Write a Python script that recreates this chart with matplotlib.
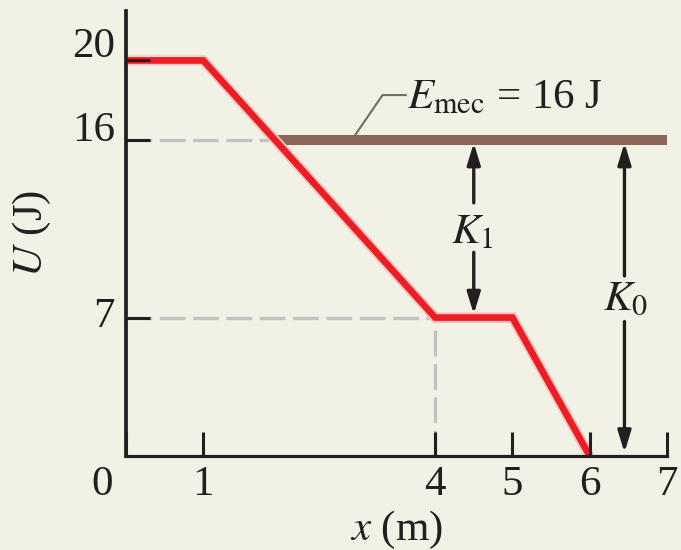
import numpy as np
import matplotlib
matplotlib.use("Agg")
import matplotlib.pyplot as plt
import matplotlib.patheffects as pe
from matplotlib.transforms import ScaledTranslation

# Potential energy curve U(x)
x_pos = [0, 1, 4, 5, 6]
u_vals = [20, 20, 7, 7, 0]

# Mechanical energy level
e_mec = 16
e_mec_x_end = 7

# Kinetic energy markers: (x position, lower U, upper U)
k1_x, k1_low, k1_high = 4.5, 7, 16
k0_x, k0_low, k0_high = 6.45, 0, 16

x_ticks = [0, 1, 4, 5, 6, 7]
x_tick_labels = ["0", "1", "4", "5", "6", "7"]
y_ticks = [7, 16, 20]
y_tick_labels = ["7", "16", "20"]

BG = "#f1f1e5"
INK = "#231f20"
RED = "#ee1d24"
BROWN = "#8b6757"
DASH = "#c2c2c4"
FS = 31

plt.rcParams["font.family"] = ["Liberation Serif", "DejaVu Serif"]
plt.rcParams["mathtext.fontset"] = "stix"
plt.rcParams["lines.scale_dashes"] = False

fig = plt.figure(figsize=(6.81, 5.50), dpi=100, facecolor=BG)
ax = fig.add_axes([0.185, 0.1709, 0.9794 - 0.185, 0.98 - 0.1709])
ax.set_facecolor(BG)
ax.set_xlim(0, 7)
ax.set_ylim(0, 22.5)

# where the falling segment crosses the energy level
x_cross = x_pos[1] + (u_vals[1] - e_mec) / (u_vals[1] - u_vals[2]) * (x_pos[2] - x_pos[1])

dash_style = dict(color=DASH, lw=2.4, linestyle=(0, (18.5, 5.5)), zorder=1)
ax.plot([0, x_cross], [e_mec, e_mec], **dash_style)
ax.plot([0, x_pos[2]], [u_vals[2], u_vals[2]], **dash_style)
ax.plot([x_pos[2], x_pos[2]], [0, u_vals[2]], **dash_style)

# mechanical energy line
ax.plot([x_cross, e_mec_x_end], [e_mec, e_mec], color=BROWN, lw=7.2,
        solid_capstyle="butt", zorder=2.1)

# potential energy curve
ax.plot(x_pos, u_vals, color=RED, lw=4.8, solid_capstyle="butt",
        solid_joinstyle="miter", zorder=2.2,
        path_effects=[pe.Stroke(linewidth=7.5, foreground="#f2c8c3"), pe.Normal()])

# leader line to the energy label
ax.plot([2.96, 3.32, 3.62], [16.2, 18.25, 18.25], color="#6d6d69", lw=1.5,
        solid_joinstyle="miter", zorder=2.3)
ax.text(3.635, 17.59, r"$E_{\rm mec}$ = 16 J", fontsize=FS, color=INK,
        ha="left", va="baseline")

arrow_kw = dict(arrowstyle="-|>,head_length=0.65,head_width=0.2", color=INK,
                lw=2.4, mutation_scale=20, shrinkA=0, shrinkB=2.5)


def double_arrow(x, low, high, gap_top, gap_bottom):
    ax.annotate("", xy=(x, high), xytext=(x, gap_top), arrowprops=arrow_kw, zorder=3)
    ax.annotate("", xy=(x, low), xytext=(x, gap_bottom), arrowprops=arrow_kw, zorder=3)


double_arrow(k1_x, k1_low, k1_high, 12.8, 10.3)
double_arrow(k0_x, k0_low, k0_high, 9.1, 6.8)
ax.text(4.48, 10.77, r"$K_1$", fontsize=FS, color=INK, ha="center", va="baseline")
ax.text(6.47, 7.38, r"$K_0$", fontsize=FS, color=INK, ha="center", va="baseline")

# axes styling
for side in ("top", "right"):
    ax.spines[side].set_visible(False)
ax.spines["left"].set_linewidth(2.7)
ax.spines["bottom"].set_linewidth(2.3)
ax.spines["left"].set_color(INK)
ax.spines["bottom"].set_color(INK)
ax.set_axisbelow(False)

ax.set_xticks(x_ticks)
ax.set_xticklabels(x_tick_labels)
ax.set_yticks(y_ticks)
ax.set_yticklabels(y_tick_labels)
ax.tick_params(axis="both", direction="in", length=17.5, width=2.2, color=INK,
               labelsize=FS, labelcolor=INK)
ax.tick_params(axis="x", pad=7)
ax.tick_params(axis="y", pad=8)

# nudge individual tick labels
x_shift = {"0": (-0.24, 0.0)}
for lab in ax.get_xticklabels():
    dx, dy = x_shift.get(lab.get_text(), (0.0, 0.0))
    lab.set_transform(lab.get_transform() + ScaledTranslation(dx, dy, fig.dpi_scale_trans))
y_shift = {"20": 0.18, "16": 0.13, "7": 0.05}
for lab in ax.get_yticklabels():
    dy = y_shift.get(lab.get_text(), 0.0)
    lab.set_transform(lab.get_transform() + ScaledTranslation(0, dy, fig.dpi_scale_trans))

ax.set_xlabel(r"$x$ (m)", fontsize=FS, color=INK)
ax.set_ylabel(r"$U$ (J)", fontsize=FS, color=INK)
ax.xaxis.set_label_coords(0.5, -0.119)
ax.yaxis.set_label_coords(-0.135, 0.5)

fig.savefig("out.png", dpi=100, facecolor=BG)
